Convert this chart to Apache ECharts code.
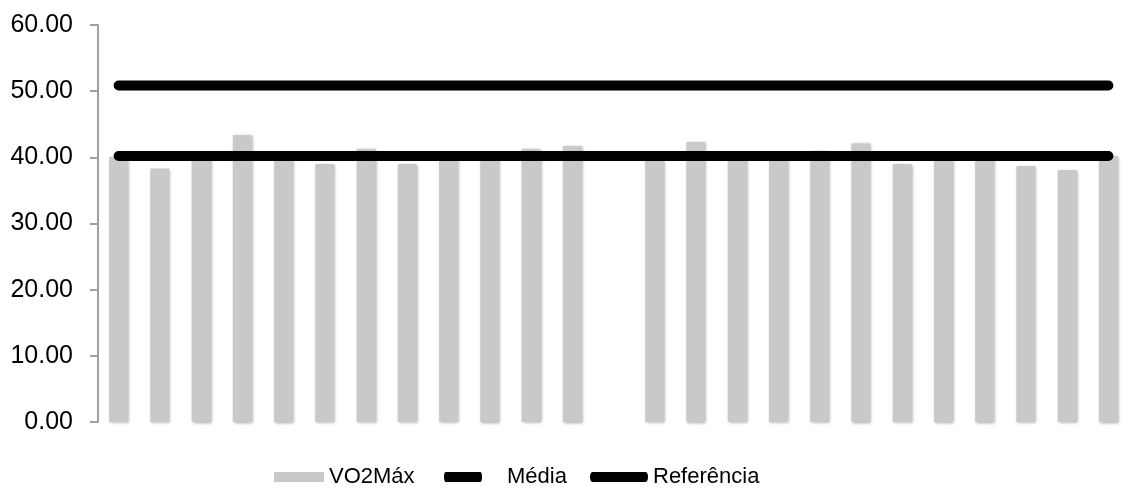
<!DOCTYPE html>
<html>
<head>
<meta charset="utf-8">
<script src="https://cdn.jsdelivr.net/npm/echarts@6/dist/echarts.min.js"></script>
<style>
  html, body { margin: 0; padding: 0; background: #fff; }
  #chart { width: 1129px; height: 490px; }
</style>
</head>
<body>
<div id="chart"></div>
<script>
// Individual subjects (index 12 has no measurement)
const categories = ['1','2','3','4','5','6','7','8','9','10','11','12','13',
                    '14','15','16','17','18','19','20','21','22','23','24','25'];
const vo2max = [40.1, 38.3, 40.0, 43.35, 39.7, 39.0, 41.3, 39.0, 39.8, 39.7, 41.3, 41.7, null,
                39.6, 42.3, 39.8, 39.9, 41.0, 42.1, 39.0, 40.0, 39.7, 38.7, 38.1, 40.2];
const media = [40.2, 40.2, 40.2, 40.2, 40.2, 40.2, 40.2, 40.2, 40.2, 40.2, 40.2, 40.2, 40.2,
               40.2, 40.2, 40.2, 40.2, 40.2, 40.2, 40.2, 40.2, 40.2, 40.2, 40.2, 40.2];
const referencia = [50.85, 50.85, 50.85, 50.85, 50.85, 50.85, 50.85, 50.85, 50.85, 50.85, 50.85, 50.85, 50.85,
                    50.85, 50.85, 50.85, 50.85, 50.85, 50.85, 50.85, 50.85, 50.85, 50.85, 50.85, 50.85];
const yTicks = { min: 0, max: 60, interval: 10 };

const FONT = "'Liberation Sans', Arial, sans-serif";
const capsule = 'path://M5,0 L95,0 A5,5 0 0 1 95,10 L5,10 A5,5 0 0 1 5,0 Z';

const legendBase = {
  top: 466, padding: 0, itemHeight: 10, symbolKeepAspect: false
};

const chart = echarts.init(document.getElementById('chart'), null, { renderer: 'canvas' });
chart.setOption({
  animation: false,
  backgroundColor: '#ffffff',
  textStyle: { fontFamily: FONT },
  grid: { left: 98, top: 25, width: 1040, height: 397, containLabel: false },
  legend: [
    Object.assign({}, legendBase, {
      data: ['VO2Máx'], left: 274, icon: 'rect', itemWidth: 50,
      textStyle: { fontSize: 22, color: '#000', fontFamily: FONT }
    }),
    Object.assign({}, legendBase, {
      data: ['Média'], left: 444, icon: capsule, itemWidth: 38,
      textStyle: { fontSize: 22, color: '#000', fontFamily: FONT, padding: [0, 0, 0, 20] }
    }),
    Object.assign({}, legendBase, {
      data: ['Referência'], left: 590, icon: capsule, itemWidth: 58,
      textStyle: { fontSize: 22, color: '#000', fontFamily: FONT }
    })
  ],
  xAxis: {
    type: 'category',
    data: categories,
    boundaryGap: true,
    axisLine: { show: false },
    axisTick: { show: false },
    axisLabel: { show: false },
    splitLine: { show: false }
  },
  yAxis: {
    type: 'value',
    min: yTicks.min, max: yTicks.max, interval: yTicks.interval,
    axisLine: { show: true, lineStyle: { color: '#a0a0a0', width: 2 } },
    axisTick: { show: true, inside: false, length: 8, lineStyle: { color: '#a0a0a0', width: 2 } },
    splitLine: { show: false },
    axisLabel: {
      margin: 25, fontSize: 25, color: '#000', fontFamily: FONT,
      formatter: v => v.toFixed(2)
    }
  },
  series: [
    {
      name: 'VO2Máx', type: 'bar', data: vo2max, barWidth: 19,
      itemStyle: {
        color: '#c9c9c9',
        shadowColor: 'rgba(0,0,0,0.35)', shadowBlur: 3, shadowOffsetX: 1, shadowOffsetY: 1
      },
      z: 1
    },
    {
      name: 'Média', type: 'line', data: media, showSymbol: false, symbol: 'none',
      lineStyle: { color: '#000', width: 10, cap: 'round' },
      itemStyle: { color: '#000' },
      z: 3
    },
    {
      name: 'Referência', type: 'line', data: referencia, showSymbol: false, symbol: 'none',
      lineStyle: { color: '#000', width: 10, cap: 'round' },
      itemStyle: { color: '#000' },
      z: 3
    }
  ]
});
</script>
</body>
</html>
